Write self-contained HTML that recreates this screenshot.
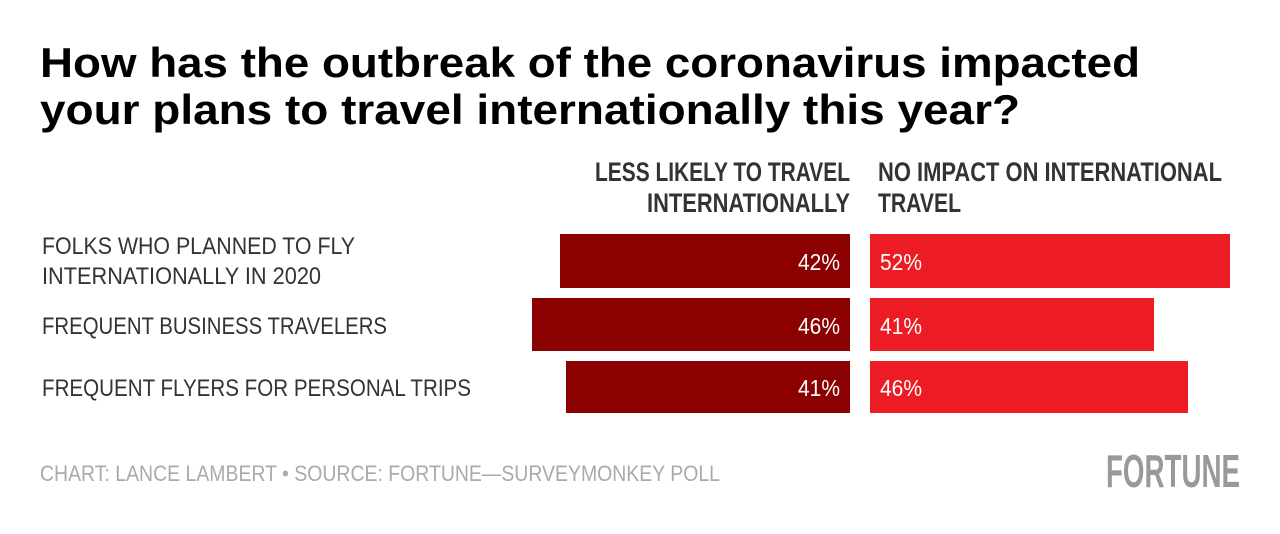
<!DOCTYPE html>
<html><head><style>body{margin:0;background:#fff}svg{display:block}</style></head><body>
<svg width="1280" height="534" xmlns="http://www.w3.org/2000/svg" font-family="Liberation Sans, sans-serif">
<g font-weight="bold" font-size="42" fill="#000">
<text x="40" y="77" textLength="1100" lengthAdjust="spacingAndGlyphs">How has the outbreak of the coronavirus impacted</text>
<text x="40" y="124" textLength="980" lengthAdjust="spacingAndGlyphs">your plans to travel internationally this year?</text>
</g>
<g font-weight="bold" font-size="27" fill="#333">
<text x="595" y="181" textLength="255" lengthAdjust="spacingAndGlyphs">LESS LIKELY TO TRAVEL</text>
<text x="647" y="212" textLength="203" lengthAdjust="spacingAndGlyphs">INTERNATIONALLY</text>
<text x="878" y="181" textLength="344" lengthAdjust="spacingAndGlyphs">NO IMPACT ON INTERNATIONAL</text>
<text x="878" y="212" textLength="83" lengthAdjust="spacingAndGlyphs">TRAVEL</text>
</g>
<g font-size="24" fill="#333">
<text x="42" y="254" textLength="313" lengthAdjust="spacingAndGlyphs">FOLKS WHO PLANNED TO FLY</text>
<text x="42" y="284" textLength="279" lengthAdjust="spacingAndGlyphs">INTERNATIONALLY IN 2020</text>
<text x="42" y="334" textLength="345" lengthAdjust="spacingAndGlyphs">FREQUENT BUSINESS TRAVELERS</text>
<text x="42" y="396" textLength="429" lengthAdjust="spacingAndGlyphs">FREQUENT FLYERS FOR PERSONAL TRIPS</text>
</g>
<rect x="560" y="234" width="290" height="54" fill="#8b0000"/>
<rect x="870" y="234" width="360" height="54" fill="#ed1c24"/>
<rect x="532" y="298" width="318" height="53" fill="#8b0000"/>
<rect x="870" y="298" width="284" height="53" fill="#ed1c24"/>
<rect x="566" y="361" width="284" height="52" fill="#8b0000"/>
<rect x="870" y="361" width="318" height="52" fill="#ed1c24"/>
<g font-size="23" fill="#fff">
<text x="840" y="270" text-anchor="end" textLength="42" lengthAdjust="spacingAndGlyphs">42%</text>
<text x="840" y="334" text-anchor="end" textLength="42" lengthAdjust="spacingAndGlyphs">46%</text>
<text x="840" y="396" text-anchor="end" textLength="42" lengthAdjust="spacingAndGlyphs">41%</text>
<text x="880" y="270" textLength="42" lengthAdjust="spacingAndGlyphs">52%</text>
<text x="880" y="334" textLength="42" lengthAdjust="spacingAndGlyphs">41%</text>
<text x="880" y="396" textLength="42" lengthAdjust="spacingAndGlyphs">46%</text>
</g>
<text x="40" y="481" font-size="22" fill="#aaa" textLength="680" lengthAdjust="spacingAndGlyphs">CHART: LANCE LAMBERT • SOURCE: FORTUNE—SURVEYMONKEY POLL</text>
<text x="1106" y="487" font-size="46" font-weight="bold" fill="#999" textLength="134" lengthAdjust="spacingAndGlyphs">FORTUNE</text>
</svg>
</body></html>
